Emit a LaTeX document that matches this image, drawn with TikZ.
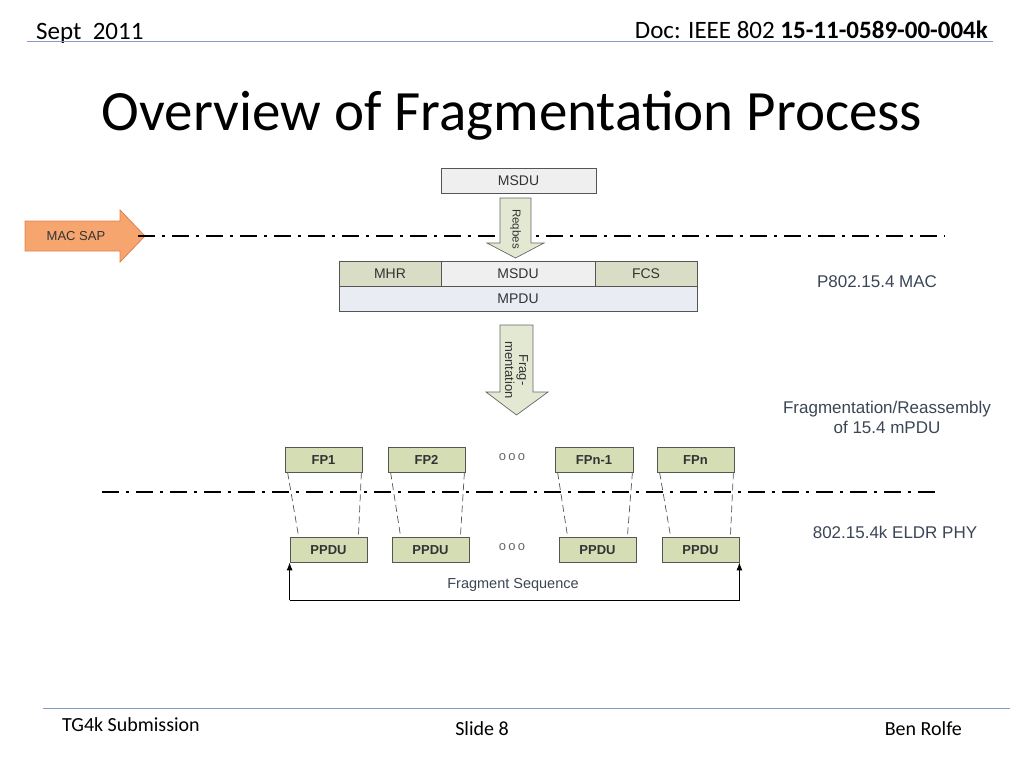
\documentclass[tikz,border=0pt]{standalone}
\usepackage{fontspec}
\setmainfont{Carlito}
\newfontfamily\arialf{Liberation Sans}
\usetikzlibrary{arrows.meta}
\definecolor{hdrline}{HTML}{7F9DC6}
\definecolor{boxgray}{HTML}{EFEFEF}
\definecolor{olive}{HTML}{D9DDC5}
\definecolor{fpgreen}{HTML}{D5DDB5}
\definecolor{mpdu}{HTML}{E9EDF3}
\definecolor{bord}{HTML}{555555}
\definecolor{orfill}{HTML}{F6A56F}
\definecolor{ordraw}{HTML}{E2814A}
\definecolor{arrfill}{HTML}{E3E8D2}
\definecolor{lbl}{HTML}{3A4556}
\tikzset{
  pkt/.style={draw=bord, line width=0.8pt, minimum height=25pt, inner sep=0pt, text height=10pt, text depth=0pt, font=\arialf\fontsize{14}{16}\selectfont, text=black!80},
  fpbox/.style={pkt, fill=fpgreen, font=\arialf\bfseries\fontsize{13}{15}\selectfont},
  dashdot/.style={line width=1.8pt, dash pattern=on 17pt off 7pt on 3pt off 7pt},
  linkd/.style={draw=bord, line width=0.7pt, dash pattern=on 7pt off 4pt},
  side/.style={font=\arialf\fontsize{17}{20}\selectfont, text=lbl, align=center},
  dots/.style={font=\arialf\fontsize{13}{14}\selectfont, text=black!60}
}
\begin{document}
\begin{tikzpicture}[x=1pt,y=-1pt]
\useasboundingbox (0,0) rectangle (1024,768);
% header
\node[anchor=base west, font=\fontsize{25}{28}\selectfont, inner sep=0pt] (hdate) at (36,40) {Sept\ \ 2011};
\node[anchor=base east, font=\fontsize{25}{28}\selectfont, inner sep=0pt] (hdoc) at (988,38) {Doc: IEEE 802 \textbf{15-11-0589-00-004k}};
\draw[hdrline, line width=1pt] (27,42) coordinate (hl1) -- (993,42) coordinate (hl2);
% title
\node[font=\fontsize{57}{64}\selectfont, anchor=base] (title) at (512,130) {Overview of Fragmentation Process};
% top MSDU
\node[pkt, fill=boxgray, minimum width=155pt] (msdu0) at (518.5,180.5) {MSDU};
% MAC SAP arrow
\draw[ordraw, fill=orfill, line width=0.8pt] (25,221) -- (120,221) -- (120,210) -- (145,236) -- (120,262) -- (120,251) -- (25,251) -- cycle;
\node[font=\arialf\fontsize{13}{15}\selectfont, text=black!80] (macsap) at (76,236) {MAC SAP};
% dash-dot line MAC SAP
\draw[dashdot] (138,236) coordinate (d1a) -- (945,236) coordinate (d1b);
% Reqbes arrow
\draw[draw=gray!80!black, fill=arrfill, line width=0.7pt] (500,198) -- (531,198) -- (531,243) -- (544,243) -- (515.5,258) -- (487,243) -- (500,243) -- cycle;
\node[rotate=-90, font=\arialf\fontsize{11.5}{13}\selectfont, text=black!80] (req) at (515.5,229) {Reqbes};
% MPDU block
\node[pkt, fill=olive, minimum width=102pt] (mhr) at (390,273.5) {MHR};
\node[pkt, fill=boxgray, minimum width=154pt] (msdu1) at (518,273.5) {MSDU};
\node[pkt, fill=olive, minimum width=102pt] (fcs) at (646,273.5) {FCS};
\node[pkt, fill=mpdu, minimum width=358pt] (mpdu) at (518,298.5) {MPDU};
\node[side] (mac) at (877,282) {P802.15.4 MAC};
% Frag arrow
\draw[draw=gray!80!black, fill=arrfill, line width=0.7pt] (500,325) -- (533,325) -- (533,392) -- (548,392) -- (516.5,415) -- (486,392) -- (500,392) -- cycle;
\node[rotate=-90, font=\arialf\fontsize{13}{14}\selectfont, text=black!80, align=center] (frag) at (516.5,370) {Frag-\\mentation};
\node[side] (fr) at (887,417) {Fragmentation/Reassembly\\of 15.4 mPDU};
% FP boxes
\node[fpbox, minimum width=77pt] (fp1) at (323.5,459.5) {FP1};
\node[fpbox, minimum width=77pt] (fp2) at (426.5,459.5) {FP2};
\node[fpbox, minimum width=78pt] (fpn1) at (594,459.5) {FPn-1};
\node[fpbox, minimum width=77pt] (fpn) at (695.5,459.5) {FPn};
\node[dots] (o1) at (512,457) {o\,o\,o};
\draw[dashdot] (102,492) coordinate (d2a) -- (938,492) coordinate (d2b);
\node[side] (phy) at (895,532) {802.15.4k ELDR PHY};
% PPDU boxes
\node[fpbox, minimum width=77pt] (pp1) at (328.5,549.5) {PPDU};
\node[fpbox, minimum width=77pt] (pp2) at (430.5,549.5) {PPDU};
\node[fpbox, minimum width=77pt] (pp3) at (597.5,549.5) {PPDU};
\node[fpbox, minimum width=77pt] (pp4) at (700.5,549.5) {PPDU};
\node[dots] (o2) at (512,547) {o\,o\,o};
% dashed links
\foreach \a/\b in {fp1/pp1, fp2/pp2, fpn1/pp3, fpn/pp4}{
  \draw[linkd] ([xshift=3pt]\a.south west) -- ([xshift=9pt]\b.north west);
  \draw[linkd] ([xshift=-1pt]\a.south east) -- ([xshift=-9pt]\b.north east);
}
% fragment sequence
\draw[line width=0.9pt, -{Latex[length=8pt,width=6pt]}] (pp1.south west) ++(0,38) coordinate (fs1) -- (pp1.south west);
\draw[line width=0.9pt, -{Latex[length=8pt,width=6pt]}] (fs1) -| (pp4.south east);
\node[font=\arialf\fontsize{14.5}{16}\selectfont, text=lbl] (fseq) at (513,585) {Fragment Sequence};
% footer
\draw[hdrline, line width=1pt] (43,708) coordinate (fl1) -- (1010,708) coordinate (fl2);
\node[anchor=base west, font=\fontsize{20}{22}\selectfont, inner sep=0pt] (ftl) at (62,731) {TG4k Submission};
\node[anchor=base, font=\fontsize{20}{22}\selectfont, inner sep=0pt] (ftc) at (482,735) {Slide 8};
\node[anchor=base east, font=\fontsize{20}{22}\selectfont, inner sep=0pt] (ftr) at (962,735) {Ben Rolfe};
\end{tikzpicture}
\end{document}
